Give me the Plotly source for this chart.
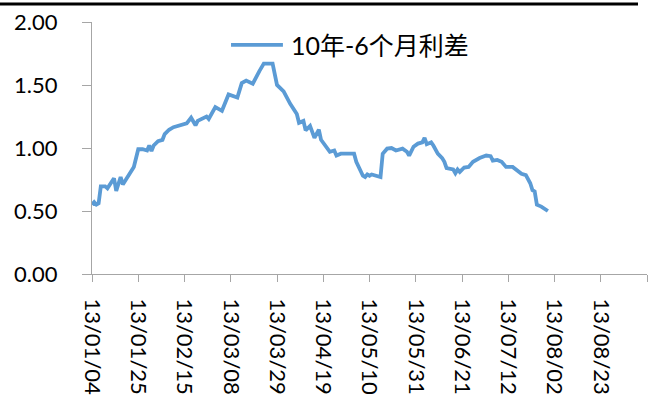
import pandas as pd
import plotly.graph_objects as go

# 10-year minus 6-month yield spread, 2013
dates = [
    "2013-01-04", "2013-01-05", "2013-01-06", "2013-01-07", "2013-01-08", "2013-01-10",
    "2013-01-11", "2013-01-14", "2013-01-15", "2013-01-17", "2013-01-18", "2013-01-22",
    "2013-01-23", "2013-01-25", "2013-01-27", "2013-01-29", "2013-01-30", "2013-01-31",
    "2013-02-01", "2013-02-03", "2013-02-05", "2013-02-06", "2013-02-08", "2013-02-10",
    "2013-02-16", "2013-02-18", "2013-02-20", "2013-02-21", "2013-02-25", "2013-02-26",
    "2013-03-01", "2013-03-04", "2013-03-06", "2013-03-07", "2013-03-11", "2013-03-13",
    "2013-03-15", "2013-03-18", "2013-03-21", "2013-03-23", "2013-03-27", "2013-03-29",
    "2013-04-01", "2013-04-04", "2013-04-07", "2013-04-08", "2013-04-10", "2013-04-11",
    "2013-04-13", "2013-04-15", "2013-04-17", "2013-04-18", "2013-04-22", "2013-04-24",
    "2013-04-25", "2013-04-27", "2013-05-03", "2013-05-04", "2013-05-07", "2013-05-08",
    "2013-05-09", "2013-05-10", "2013-05-11", "2013-05-13", "2013-05-15", "2013-05-16",
    "2013-05-18", "2013-05-20", "2013-05-22", "2013-05-25", "2013-05-27", "2013-05-28",
    "2013-05-30", "2013-06-01", "2013-06-03", "2013-06-04", "2013-06-05", "2013-06-07",
    "2013-06-08", "2013-06-10", "2013-06-12", "2013-06-13", "2013-06-14", "2013-06-17",
    "2013-06-18", "2013-06-19", "2013-06-20", "2013-06-22", "2013-06-24", "2013-06-26",
    "2013-06-29", "2013-07-02", "2013-07-04", "2013-07-05", "2013-07-07", "2013-07-09",
    "2013-07-11", "2013-07-14", "2013-07-16", "2013-07-18", "2013-07-20", "2013-07-22",
    "2013-07-23", "2013-07-24", "2013-07-25", "2013-07-27", "2013-07-30",
]
spread = [
    0.55, 0.57, 0.55, 0.56, 0.695, 0.695,
    0.68, 0.76, 0.66, 0.77, 0.71, 0.83,
    0.85, 0.99, 0.99, 0.98, 1.02, 0.975,
    1.02, 1.055, 1.065, 1.11, 1.145, 1.165,
    1.195, 1.24, 1.18, 1.215, 1.25, 1.23,
    1.325, 1.295, 1.375, 1.425, 1.40, 1.515,
    1.535, 1.51, 1.61, 1.67, 1.67, 1.50,
    1.45, 1.35, 1.27, 1.20, 1.215, 1.14,
    1.175, 1.08, 1.145, 1.065, 0.97, 0.98,
    0.94, 0.955, 0.955, 0.89, 0.78, 0.77,
    0.79, 0.78, 0.79, 0.78, 0.77, 0.955,
    0.995, 1.00, 0.98, 0.995, 0.97, 0.94,
    1.01, 1.035, 1.045, 1.08, 1.03, 1.045,
    1.02, 0.955, 0.92, 0.89, 0.84, 0.83,
    0.80, 0.83, 0.81, 0.845, 0.85, 0.89,
    0.92, 0.94, 0.935, 0.90, 0.905, 0.89,
    0.85, 0.85, 0.825, 0.795, 0.785, 0.72,
    0.665, 0.655, 0.55, 0.535, 0.50,
]

series_name = "10年-6个月利差"
y_ticks = [0.0, 0.5, 1.0, 1.5, 2.0]

# x ticks every three weeks; the final tick at the axis end carries no label
x_tick_dates = pd.date_range("2013-01-04", periods=13, freq="21D")
x_tick_text = [d.strftime("%y/%m/%d") for d in x_tick_dates[:-1]] + [""]

line_color = "#5B9BD5"
axis_color = "#A6A6A6"
num_font = "Lato, Noto Sans CJK SC, sans-serif"

fig = go.Figure()
fig.add_trace(go.Scatter(
    x=dates, y=spread, mode="lines", name=series_name,
    line=dict(color=line_color, width=3.8), showlegend=False,
))

fig.update_layout(
    width=655, height=403,
    margin=dict(l=92, r=8, t=20, b=127),
    paper_bgcolor="white", plot_bgcolor="white",
    font=dict(family=num_font, size=22, color="#000000"),
    xaxis=dict(
        type="date",
        range=[x_tick_dates[0], x_tick_dates[-1]],
        tickmode="array", tickvals=list(x_tick_dates), ticktext=x_tick_text,
        tickangle=90,
        ticks="outside", ticklen=7, tickwidth=1, tickcolor=axis_color,
        showline=True, linecolor=axis_color, linewidth=1,
        showgrid=False, zeroline=False,
        ticklabelstandoff=12,
        tickfont=dict(family=num_font, size=22, color="#000000"),
    ),
    yaxis=dict(
        range=[0, 2],
        tickmode="array", tickvals=y_ticks, tickformat=".2f",
        ticks="outside", ticklen=9, tickwidth=1, tickcolor=axis_color,
        showline=True, linecolor=axis_color, linewidth=1,
        showgrid=False, zeroline=False,
        ticklabelstandoff=20,
        tickfont=dict(family=num_font, size=22, color="#000000"),
    ),
    shapes=[
        # thick rule along the top edge of the image
        dict(type="line", xref="paper", yref="paper",
             x0=-92 / 555, x1=546 / 555, y0=1.071, y1=1.071,
             line=dict(color="#000000", width=3)),
        # legend key
        dict(type="line", xref="paper", yref="paper",
             x0=0.2505, x1=0.344, y0=0.909, y1=0.909,
             line=dict(color=line_color, width=3.8)),
    ],
    annotations=[
        dict(text=series_name, xref="paper", yref="paper",
             x=0.355, y=0.909, xanchor="left", yanchor="middle",
             showarrow=False,
             font=dict(family=num_font, size=25, color="#000000")),
    ],
)

fig.write_html("out.html")
